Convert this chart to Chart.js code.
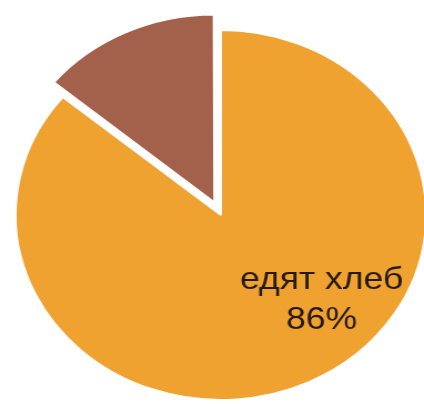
<!DOCTYPE html>
<html>
<head>
<meta charset="utf-8">
<script src="https://cdn.jsdelivr.net/npm/chart.js@4.4.1/dist/chart.umd.min.js"></script>
<style>
  html, body { margin: 0; padding: 0; background: #ffffff; overflow: hidden; }
  #wrap {
    width: 382px; height: 404px;
    transform: scaleX(1.11); transform-origin: 0 0;
  }
</style>
</head>
<body>
<div id="wrap"><canvas id="c" width="382" height="404"></canvas></div>
<script>
// Share of people who eat bread
const categories = ['едят хлеб', 'не едят хлеб'];
const percents = [86, 14];
const sliceColors = ['#EFA230', '#A3604A'];

// Writes the name and percentage inside the first (large) slice
const sliceLabel = {
  id: 'sliceLabel',
  afterDatasetsDraw(chart) {
    const arc = chart.getDatasetMeta(0).data[0];
    const ang = 42 * Math.PI / 180;   // below horizontal, to the right
    const dist = arc.outerRadius * 0.66;
    const x = arc.x + Math.cos(ang) * dist;
    const y = arc.y + Math.sin(ang) * dist;
    const ctx = chart.ctx;
    ctx.save();
    ctx.fillStyle = '#24190e';
    ctx.font = '32px "Liberation Sans", Arial, sans-serif';
    ctx.textAlign = 'center';
    ctx.textBaseline = 'alphabetic';
    ctx.fillText(categories[0], x, y - 8);
    ctx.fillText(percents[0] + '%', x, y + 32);
    ctx.restore();
  }
};

new Chart(document.getElementById('c'), {
  type: 'pie',
  data: {
    labels: categories,
    datasets: [{
      data: percents,
      backgroundColor: sliceColors,
      borderColor: '#ffffff',
      borderWidth: 2,
      offset: [0, 55],
      hoverOffset: 0
    }]
  },
  options: {
    responsive: false,
    animation: false,
    radius: 185,
    layout: { padding: { left: 16, right: 0, top: 26, bottom: 0 } },
    plugins: {
      legend: { display: false },
      tooltip: { enabled: false }
    }
  },
  plugins: [sliceLabel]
});
</script>
</body>
</html>
